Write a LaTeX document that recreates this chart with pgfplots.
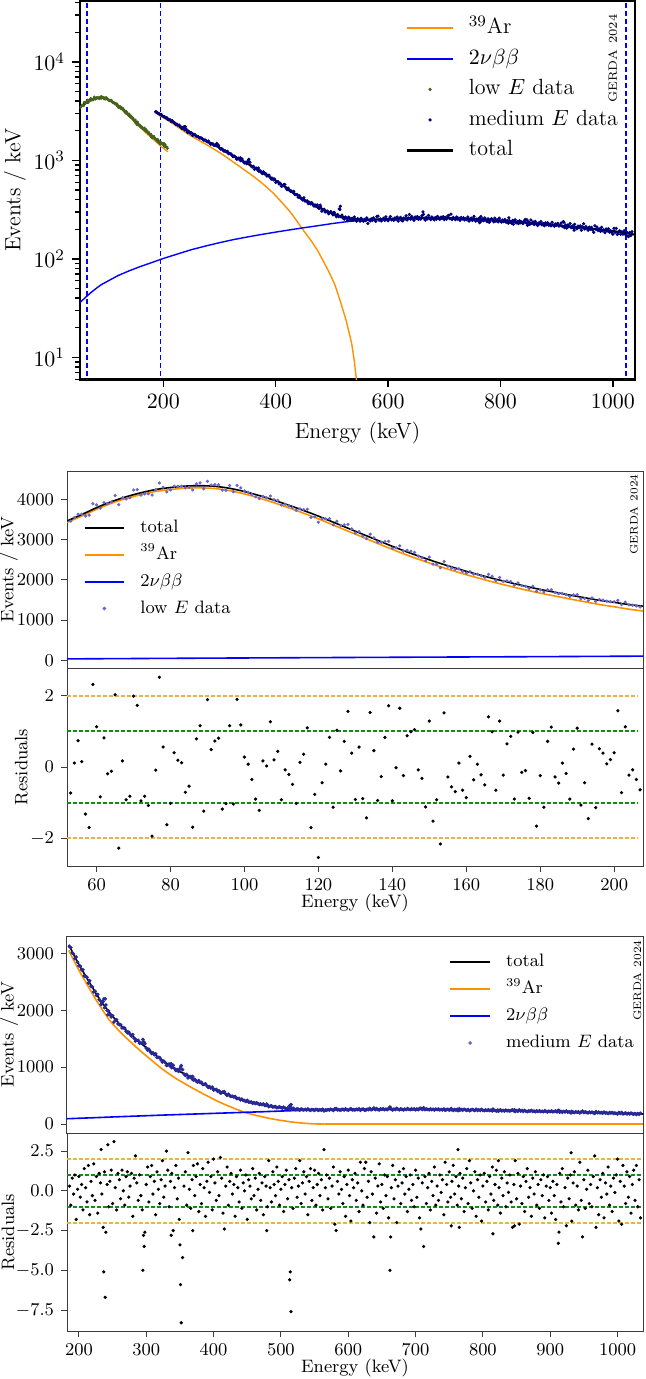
\documentclass[border=0pt]{standalone}
\usepackage{fontspec}
\usepackage{pgfplots}
\usepackage{pgfplotstable}
\pgfplotsset{compat=1.18}

\definecolor{arorange}{RGB}{255,145,0}
\definecolor{bbblue}{RGB}{0,0,255}
\definecolor{lowgreen}{RGB}{70,100,30}
\definecolor{navydata}{RGB}{0,0,128}
\definecolor{meddot}{RGB}{40,40,150}
\definecolor{lowdot}{RGB}{105,105,205}
\definecolor{sigtwo}{RGB}{232,180,70}
\definecolor{sigone}{RGB}{20,140,20}
\definecolor{framegray}{RGB}{60,60,60}

\pgfplotsset{
  gerda/.style={scale only axis, tick align=outside, tick pos=left,
    /pgf/number format/1000 sep={}, legend cell align=left,
    axis line style={framegray, line width=0.5pt},
    tick style={framegray, line width=0.5pt}, major tick length=3pt,
    ticklabel style={font=\fontsize{9}{11}\selectfont},
    every axis x label/.style={at={(rel axis cs:0.5,0)}, anchor=center, yshift=-18.5pt, font=\fontsize{9}{11}\selectfont}},
  ylabelat/.style={every axis y label/.style={at={(rel axis cs:0,0.5)}, rotate=90, anchor=center, yshift=#1, font=\fontsize{9}{11}\selectfont}},
  smalllegend/.style={legend style={at={(#1)}, anchor=north west, draw=none, fill=none,
    inner sep=0pt, row sep=2.5pt,
    nodes={font=\fontsize{9}{11}\selectfont, inner sep=1pt, text height=7pt, text depth=2pt},
    /tikz/every odd column/.append style={column sep=6.5pt}},
    legend image code/.code={\draw[mark repeat=2,mark phase=2,##1] plot coordinates {(0cm,0cm) (0.35cm,0cm) (0.7cm,0cm)};}},
  sigline/.style={forget plot, line width=0.9pt, dash pattern=on 2pt off 1pt, color=#1},
  bbline/.style={color=bbblue, line width=#1},
  arline/.style={color=arorange, line width=#1},
  totline/.style={color=black, line width=#1},
  dots/.style 2 args={only marks, mark=*, mark size=#1, color=#2},
}

% total fit, low energy range
\pgfplotstableread{
E tot
52 3460
56 3620
60 3790
64 3940
68 4060
72 4160
76 4240
80 4290
84 4325
88 4335
92 4320
96 4270
100 4190
104 4090
108 3975
112 3850
116 3720
120 3580
124 3430
128 3280
132 3130
136 2980
140 2830
144 2690
148 2560
152 2435
156 2320
160 2210
164 2110
168 2015
172 1925
176 1840
180 1760
184 1690
188 1620
192 1555
196 1490
200 1440
204 1385
207.8 1345
}\lowtot

\pgfplotstableread{
E ar
52 3424
56 3582
60 3750
64 3898
68 4016
72 4114
76 4192
80 4240
84 4273
88 4281
92 4264
96 4212
100 4131
104 4029
108 3912
112 3785
116 3653
120 3512
124 3360
128 3208
132 3056
136 2904
140 2754
144 2612
148 2480
152 2354
156 2237
160 2126
164 2024
168 1927
172 1836
176 1749
180 1668
184 1596
188 1524
192 1455
196 1386
200 1330
204 1270
207.8 1225
}\lowar

\pgfplotstableread{
E bb
51.5 36
60 40
70 45
80 50
90 55
100 59
120 68
140 76
160 84
180 92
200 101
225 112
250 124
275 135
300 146
325 157
350 167
375 177
400 187
425 197
450 207
475 217
500 228
525 238
550 246
575 250
600 254
650 260
700 260
750 254
800 244
850 233
900 220
950 206
1000 192
1039.5 176
}\bbtab

\pgfplotstableread{
E tot
185 3150
195 2910
205 2700
215 2500
225 2300
235 2120
245 1965
255 1825
265 1700
275 1595
285 1490
295 1390
305 1295
315 1200
325 1110
335 1030
345 955
355 890
365 825
375 765
385 705
395 650
405 595
415 545
425 500
435 455
445 415
455 385
465 360
475 337
485 315
495 298
505 284
515 270
525 262
535 256
545 252
555 250
570 251
600 254
650 260
700 260
750 254
800 244
850 233
900 220
950 206
1000 192
1039.5 176
}\medtot

\pgfplotstableread{
E ar
185 3052
195 2811
205 2597
215 2393
225 2188
235 2004
245 1830
255 1696
265 1572
275 1462
285 1352
295 1248
305 1149
315 1050
325 956
335 872
345 793
355 724
365 655
375 591
385 527
395 468
405 406
415 352
425 303
435 254
445 210
455 176
465 147
475 120
485 94
495 73
505 55
515 37
525 24
535 14
540 9
545 5
550 2.2
555 0.8
560 0.2
565 0.02
}\medar

\pgfplotstableread{
E data res
53 3456 -0.73
54 3547 0.11
55 3624 0.74
56 3629 0.15
57 3583 -1.32
58 3603 -1.70
59 3887 2.32
60 3858 1.13
61 3778 -0.84
62 3914 0.82
63 3891 -0.19
64 3933 -0.12
65 4092 2.03
66 3863 -2.28
67 4040 0.17
68 4005 -0.92
69 4036 -0.82
70 4229 1.99
71 4239 1.73
72 4103 -0.95
73 4131 -0.82
74 4135 -1.08
75 4104 -1.94
76 4235 -0.09
77 4403 2.52
78 4299 0.56
79 4181 -1.62
80 4229 -1.02
81 4323 0.40
82 4319 0.19
83 4323 0.12
84 4282 -0.71
85 4296 -0.54
86 4229 -1.69
87 4380 0.79
88 4405 1.16
89 4257 -1.24
90 4441 1.89
91 4353 0.49
92 4364 0.73
93 4357 0.81
94 4224 -1.18
95 4220 -1.03
96 4340 1.16
97 4188 -1.04
98 4344 1.90
99 4281 1.18
100 4207 0.28
101 4170 0.08
102 4119 -0.35
103 4061 -0.90
104 4017 -1.22
105 4071 0.17
106 4034 0.03
107 4080 1.27
108 3987 0.20
109 3970 0.44
110 3857 -0.92
111 3876 -0.08
112 3837 -0.21
113 3789 -0.49
114 3724 -1.02
115 3760 0.13
116 3742 0.36
117 3751 1.10
118 3548 -1.70
119 3569 -0.77
120 3428 -2.54
121 3516 -0.44
122 3510 0.08
123 3518 0.83
124 3362 -1.13
125 3454 1.03
126 3348 -0.11
127 3361 0.72
128 3374 1.56
129 3262 0.39
130 3159 -0.91
131 3196 0.56
132 3085 -0.89
133 3020 -1.43
134 3132 1.53
135 3041 0.46
136 2933 -0.94
137 2928 -0.27
138 2947 0.83
139 2954 1.72
140 2782 -0.95
141 2794 -0.02
142 2843 1.65
143 2713 -0.24
144 2734 0.88
145 2708 0.99
146 2678 1.05
147 2588 -0.08
148 2544 -0.32
149 2473 -1.12
150 2563 1.29
151 2390 -1.52
152 2389 -0.92
153 2298 -2.16
154 2454 1.52
155 2335 -0.28
156 2292 -0.56
157 2257 -0.69
158 2271 0.11
159 2205 -0.65
160 2167 -0.86
161 2200 0.30
162 2142 -0.36
163 2139 0.08
164 2099 -0.22
165 2061 -0.50
166 2133 1.41
167 2089 0.99
168 1982 -0.65
169 2057 1.29
170 1958 -0.23
171 1974 0.65
172 1959 0.86
173 1868 -0.90
174 1921 0.98
175 1855 -0.15
176 1836 -0.10
177 1785 -0.88
178 1839 0.97
179 1714 -1.66
180 1750 -0.24
181 1697 -1.13
182 1754 0.72
183 1753 1.12
184 1679 -0.28
185 1654 -0.45
186 1659 0.11
187 1631 -0.18
188 1584 -0.90
189 1624 0.50
190 1632 1.09
191 1528 -1.07
192 1537 -0.44
193 1481 -1.45
194 1548 0.64
195 1460 -1.14
196 1510 0.51
197 1494 0.39
198 1469 0.09
199 1460 0.21
200 1456 0.40
201 1489 1.58
202 1383 -0.72
203 1444 1.13
204 1376 -0.23
205 1370 -0.08
206 1348 -0.35
207 1324 -0.64
}\lowdata

\pgfplotstableread{
E data res
186 3118 0.3
188 3101 -0.9
190 3009 0.8
192 2987 -0.2
194 2908 1.0
196 2936 -1.8
198 2844 0.1
200 2782 0.9
202 2773 -0.4
204 2711 0.4
206 2711 -1.2
208 2604 1.4
210 2595 0.2
212 2578 -0.7
214 2478 1.6
216 2519 -1.5
218 2424 0.6
220 2408 -0.3
222 2323 1.7
224 2333 -0.6
226 2262 0.9
228 2277 -1.4
230 2186 1.1
232 2163 0.5
233 2099 2.6
234 2142 -0.2
236 2154 -2.3
237 2198 -5.1
238 2043 1.2
239 2199 -6.7
240 2092 -2.6
242 1992 0.4
243 1920 2.9
244 1989 -1.0
246 1924 0.6
248 1882 1.3
250 1903 -0.8
252 1791 3.1
254 1829 0.2
256 1834 -1.2
258 1760 1.1
260 1745 0.7
262 1746 -0.5
264 1687 1.3
266 1690 0.0
268 1685 -0.9
270 1631 0.9
272 1603 1.2
274 1614 -0.4
276 1578 0.3
278 1543 1.1
280 1572 -1.6
282 1507 0.8
284 1458 2.2
286 1471 0.5
288 1471 -0.6
290 1421 1.0
292 1426 -0.3
294 1423 -1.2
295 1485 -5.0
296 1433 -2.8
297 1438 -3.5
298 1411 -2.6
300 1334 0.4
302 1300 1.5
304 1315 -0.7
306 1272 0.9
308 1240 1.6
310 1251 -0.2
312 1218 0.6
314 1234 -1.5
316 1172 1.2
318 1171 0.1
320 1168 -0.8
322 1126 0.7
324 1089 1.9
326 1108 -0.4
328 1081 0.3
330 1030 2.5
332 1033 1.3
334 1054 -1.0
336 1012 0.6
337 1060 -2.8
338 990 1.1
340 1032 -2.5
342 975 0.2
344 940 1.6
346 955 -0.5
348 925 0.8
349 954 -1.8
350 970 -3.4
351 999 -5.9
352 1026 -8.3
354 955 -4.2
356 880 0.3
358 853 1.2
360 871 -0.9
362 810 2.4
364 831 0.1
366 834 -1.1
368 797 0.7
369 836 -2.5
370 773 1.6
372 787 -0.3
374 758 0.9
376 735 1.7
378 765 -1.3
380 729 0.4
382 733 -0.8
384 694 1.4
386 698 0.2
388 707 -1.6
390 671 0.6
392 644 1.8
394 657 -0.1
396 633 0.9
398 648 -1.2
400 598 2.0
402 606 0.5
404 607 -0.6
406 576 1.2
408 584 -0.3
410 545 2.1
412 550 0.8
414 567 -1.4
416 569 -2.4
418 528 0.3
420 504 1.5
422 523 -0.9
424 498 0.6
426 485 1.1
428 488 -0.2
430 474 0.4
432 484 -1.6
434 451 0.9
436 449 0.2
438 450 -0.7
440 422 1.3
442 438 -1.1
444 414 0.5
446 412 0.0
448 396 1.0
450 418 -1.8
452 387 0.7
454 385 0.3
456 387 -0.5
458 364 1.4
460 375 -0.3
462 361 0.8
464 373 -1.2
466 357 0.1
468 343 1.1
470 353 -0.6
472 340 0.5
474 353 -1.5
476 327 0.9
478 327 0.3
479 351 -2.5
480 335 -1.0
482 305 1.9
484 315 0.2
486 319 -0.7
488 299 1.2
490 302 0.4
492 306 -0.3
494 287 1.5
496 292 0.6
498 302 -0.9
500 290 0.1
502 280 0.9
504 297 -1.3
506 279 0.4
508 268 1.3
510 282 -0.5
512 268 0.7
513 322 -5.6
514 317 -5.1
515 342 -7.6
516 267 0.2
518 278 -1.1
520 259 0.8
522 253 1.4
524 266 -0.4
526 259 0.3
528 245 1.9
530 265 -0.8
532 254 0.5
534 247 1.2
536 258 -0.2
538 248 0.9
540 266 -1.5
542 248 0.6
544 241 1.4
546 256 -0.6
548 249 0.2
550 241 1.3
552 258 -0.9
554 247 0.4
556 241 1.1
558 252 -0.3
560 244 0.7
562 260 -1.2
564 229 2.6
566 248 0.2
568 242 1.0
570 255 -0.5
572 245 0.8
574 260 -1.1
576 249 0.3
578 240 1.5
580 269 -2.1
582 272 -2.5
584 247 0.6
586 254 -0.2
588 243 1.2
590 252 0.1
592 259 -0.8
594 246 0.9
596 267 -1.6
598 251 0.4
600 244 1.3
602 256 -0.3
604 269 -1.9
606 249 0.7
608 253 0.2
610 246 1.1
612 260 -0.6
614 252 0.5
616 266 -1.3
618 242 1.8
620 256 0.0
622 264 -0.9
624 246 1.4
626 243 1.8
628 260 -0.4
630 253 0.6
632 274 -2.0
634 248 1.2
636 260 -0.2
638 282 -2.9
640 253 0.8
642 270 -1.4
644 257 0.3
646 246 1.7
648 266 -0.7
650 257 0.4
652 269 -1.1
654 252 1.0
656 262 -0.3
658 253 0.9
660 274 -1.7
662 300 -5.0
663 283 -2.9
664 258 0.2
666 247 1.6
668 264 -0.5
670 254 0.7
672 276 -2.0
674 258 0.3
676 250 1.2
678 266 -0.8
680 256 0.5
682 249 1.4
684 262 -0.2
686 253 0.9
688 270 -1.3
690 259 0.1
692 252 1.0
694 265 -0.6
696 257 0.4
698 268 -1.0
700 250 1.3
702 263 -0.4
704 253 0.8
706 272 -1.7
708 277 -2.4
710 255 0.5
712 285 -3.5
714 251 0.9
716 264 -0.8
718 256 0.2
720 250 1.1
722 266 -1.2
724 253 0.6
726 259 -0.3
728 246 1.5
730 263 -0.9
732 254 0.3
734 261 -0.6
736 249 1.0
738 256 -0.1
740 250 0.7
742 266 -1.5
744 242 1.8
746 251 0.4
748 259 -0.7
750 245 1.2
752 257 -0.4
753 270 -2.2
754 249 0.6
756 241 1.6
758 254 -0.2
760 245 0.9
762 259 -0.9
763 233 2.6
764 250 0.3
765 269 -2.3
766 243 1.1
768 255 -0.5
770 244 0.8
772 260 -1.3
774 249 0.2
776 239 1.4
778 255 -0.8
780 235 1.9
782 244 0.5
784 256 -1.1
786 247 0.0
788 238 1.2
790 259 -1.6
792 241 0.7
794 249 -0.4
796 238 1.0
798 259 -1.9
800 242 0.3
802 236 1.1
804 248 -0.7
806 239 0.6
808 251 -1.2
810 235 0.9
812 244 -0.2
814 230 1.5
815 261 -2.7
816 245 -0.6
818 237 0.4
820 230 1.3
822 246 -0.9
823 225 1.9
824 238 0.2
826 249 -1.4
828 232 0.8
830 239 -0.3
832 228 1.2
834 244 -1.0
836 232 0.5
838 237 -0.1
840 228 1.0
842 240 -0.7
844 251 -2.3
846 231 0.4
847 250 -2.2
848 219 1.9
850 237 -0.5
852 224 1.1
854 248 -2.1
856 229 0.3
858 237 -0.8
860 223 0.9
862 240 -1.3
864 225 0.6
866 218 1.4
868 231 -0.4
870 226 0.2
872 239 -1.6
874 221 0.8
876 228 -0.2
878 217 1.2
880 232 -0.9
882 222 0.4
884 232 -1.1
886 219 0.7
888 225 -0.3
890 216 1.0
892 235 -1.7
894 220 0.3
896 214 0.9
898 226 -0.6
900 219 0.2
902 229 -1.4
904 215 0.6
906 220 -0.3
908 231 -1.8
910 214 0.4
912 240 -3.3
913 235 -2.6
914 208 1.1
916 221 -0.7
918 205 1.4
920 221 -1.0
922 213 0.2
924 228 -2.2
926 207 0.8
928 216 -0.5
930 205 1.0
931 195 2.4
932 224 -1.9
934 208 0.5
936 202 1.2
938 215 -0.9
940 207 0.3
942 216 -1.2
944 195 1.8
946 211 -0.6
948 227 -2.9
950 201 0.7
952 213 -1.1
954 204 0.1
956 195 1.3
958 210 -0.8
960 200 0.4
962 209 -1.0
964 196 0.9
966 186 2.2
968 217 -2.3
970 199 0.2
972 210 -1.5
974 194 0.7
976 201 -0.4
978 190 1.1
980 209 -1.7
982 193 0.5
984 197 -0.2
986 185 1.5
988 201 -0.9
990 192 0.3
992 202 -1.3
994 187 0.8
996 193 -0.1
998 185 1.0
1000 178 2.0
1002 204 -1.9
1004 186 0.6
1006 204 -2.1
1008 177 1.6
1010 186 0.3
1012 193 -0.8
1014 178 1.2
1016 188 -0.4
1018 178 0.9
1020 193 -1.4
1022 179 0.4
1024 172 1.3
1026 184 -0.6
1028 168 1.6
1030 185 -1.0
1032 172 0.7
1034 189 -1.7
}\meddata

\begin{document}
\begin{tikzpicture}

% ---------- overview, log scale ----------
\begin{axis}[gerda, at={(40pt,-0.6pt)}, anchor=north west,
  width=277.5pt, height=189pt, ymode=log,
  xmin=51.5, xmax=1039.5, ymin=6, ymax=41300,
  xtick={200,400,600,800,1000},
  axis line style={black, line width=1.3pt},
  tick style={black, line width=0.7pt},
  major tick length=4pt, minor tick length=2.3pt,
  ticklabel style={font=\fontsize{11}{13}\selectfont},
  every axis x label/.style={at={(rel axis cs:0.5,0)}, anchor=center, yshift=-27pt, font=\fontsize{11}{13}\selectfont},
  every axis y label/.style={at={(rel axis cs:0,0.5)}, rotate=90, anchor=center, yshift=32.5pt, font=\fontsize{11}{13}\selectfont},
  xlabel={Energy (keV)}, ylabel={Events / keV},
  legend style={at={(0.587,0.962)}, anchor=north west, draw=none, fill=none,
    inner sep=0pt, row sep=2.75pt,
    nodes={font=\fontsize{11}{13}\selectfont, inner sep=1pt, text height=8pt, text depth=2.5pt},
    /tikz/every odd column/.append style={column sep=6.5pt}},
  legend image code/.code={\draw[mark repeat=2,mark phase=2,#1] plot coordinates {(0cm,0cm) (0.4cm,0cm) (0.8cm,0cm)};}]
\addlegendimage{arline=1pt}\addlegendentry{$^{39}$Ar}
\addlegendimage{bbline=1pt}\addlegendentry{$2\nu\beta\beta$}
\addlegendimage{dots={0.6pt}{lowgreen}}\addlegendentry{low $E$ data}
\addlegendimage{dots={0.6pt}{navydata}}\addlegendentry{medium $E$ data}
\addlegendimage{totline=1.1pt}\addlegendentry{total}
\addplot[forget plot, bbline=0.8pt, dash pattern=on 2.5pt off 1.5pt] coordinates {(64,1) (64,100000)};
\addplot[forget plot, bbline=0.8pt, dash pattern=on 2.5pt off 1.5pt] coordinates {(195,1) (195,100000)};
\addplot[forget plot, bbline=0.8pt, dash pattern=on 2.5pt off 1.5pt] coordinates {(1023,1) (1023,100000)};
\addplot[forget plot, arline=0.7pt, smooth] table[x=E, y=ar] {\lowar};
\addplot[forget plot, arline=0.7pt] table[x=E, y=ar] {\medar};
\addplot[forget plot, bbline=0.7pt] table[x=E, y=bb] {\bbtab};
\addplot[forget plot, dots={0.5pt}{lowgreen}] table[x=E, y=data] {\lowdata};
\addplot[forget plot, dots={0.6pt}{navydata}] table[x=E, y=data] {\meddata};
\addplot[forget plot, totline=1pt, smooth] table[x=E, y=tot] {\lowtot};
\addplot[forget plot, totline=1pt] table[x=E, y=tot] {\medtot};
\node[rotate=90, anchor=east, inner sep=0pt, font=\fontsize{6}{7}\selectfont] at (rel axis cs:0.96,0.966) {GERDA\hspace{3pt}2024};
\end{axis}

% ---------- low energy fit ----------
\begin{axis}[gerda, ylabelat=29pt, smalllegend={0.028,0.771}, at={(33.5pt,-235.5pt)}, anchor=north west,
  width=288pt, height=98.5pt, xmin=52, xmax=207.8, ymin=-190, ymax=4700,
  xtick=\empty, ytick={0,1000,2000,3000,4000}, ylabel={Events / keV}]
\addlegendimage{totline=1pt}\addlegendentry{total}
\addlegendimage{arline=1pt}\addlegendentry{$^{39}$Ar}
\addlegendimage{bbline=1pt}\addlegendentry{$2\nu\beta\beta$}
\addlegendimage{dots={0.7pt}{lowdot}}\addlegendentry{low $E$ data}
\addplot[forget plot, arline=0.8pt, smooth] table[x=E, y=ar] {\lowar};
\addplot[forget plot, bbline=0.8pt] table[x=E, y=bb] {\bbtab};
\addplot[forget plot, totline=0.8pt, smooth] table[x=E, y=tot] {\lowtot};
\addplot[forget plot, dots={0.6pt}{lowdot}] table[x=E, y=data] {\lowdata};
\node[rotate=90, anchor=east, inner sep=0pt, font=\fontsize{5.5}{6.5}\selectfont] at (rel axis cs:0.984,0.985) {GERDA\hspace{2.5pt}2024};
\end{axis}

\begin{axis}[gerda, ylabelat=22.8pt, at={(33.5pt,-334pt)}, anchor=north west,
  width=288pt, height=99pt, xmin=52, xmax=207.8, ymin=-2.78, ymax=2.78,
  xtick={60,80,...,200}, ytick={-2,0,2},
  xlabel={Energy (keV)}, ylabel={Residuals}]
\addplot[sigline=sigtwo] coordinates {(52,2) (206.5,2)};
\addplot[sigline=sigone] coordinates {(52,1) (206.5,1)};
\addplot[sigline=sigtwo] coordinates {(52,-2) (206.5,-2)};
\addplot[sigline=sigone] coordinates {(52,-1) (206.5,-1)};
\addplot[dots={0.6pt}{black}] table[x=E, y=res] {\lowdata};
\end{axis}

% ---------- medium energy fit ----------
\begin{axis}[gerda, ylabelat=29pt, smalllegend={0.663,0.926}, at={(33.5pt,-468pt)}, anchor=north west,
  width=288pt, height=98.5pt, xmin=182.3, xmax=1037.8, ymin=-158, ymax=3304,
  xtick=\empty, ytick={0,1000,2000,3000}, ylabel={Events / keV}]
\addlegendimage{totline=1pt}\addlegendentry{total}
\addlegendimage{arline=1pt}\addlegendentry{$^{39}$Ar}
\addlegendimage{bbline=1pt}\addlegendentry{$2\nu\beta\beta$}
\addlegendimage{dots={0.7pt}{lowdot}}\addlegendentry{medium $E$ data}
\addplot[forget plot, arline=0.8pt] table[x=E, y=ar] {\medar};
\addplot[forget plot, arline=0.8pt] coordinates {(565,0) (1037.8,0)};
\addplot[forget plot, bbline=0.8pt] table[x=E, y=bb] {\bbtab};
\addplot[forget plot, totline=0.8pt] table[x=E, y=tot] {\medtot};
\addplot[forget plot, dots={0.7pt}{meddot}] table[x=E, y=data] {\meddata};
\node[rotate=90, anchor=east, inner sep=0pt, font=\fontsize{5.5}{6.5}\selectfont] at (rel axis cs:0.99,0.98) {GERDA\hspace{2.5pt}2024};
\end{axis}

\begin{axis}[gerda, ylabelat=29.4pt, at={(33.5pt,-566.5pt)}, anchor=north west,
  width=288pt, height=99pt, xmin=182.3, xmax=1037.8, ymin=-8.82, ymax=3.64,
  xtick={200,300,...,1000}, ytick={-7.5,-5,-2.5,0,2.5},
  yticklabel style={/pgf/number format/.cd, fixed, fixed zerofill, precision=1},
  xlabel={Energy (keV)}, ylabel={Residuals}]
\addplot[sigline=sigtwo] coordinates {(182.3,2) (1037.8,2)};
\addplot[sigline=sigone] coordinates {(182.3,1) (1037.8,1)};
\addplot[sigline=sigtwo] coordinates {(182.3,-2) (1037.8,-2)};
\addplot[sigline=sigone] coordinates {(182.3,-1) (1037.8,-1)};
\addplot[dots={0.6pt}{black}] table[x=E, y=res] {\meddata};
\end{axis}

\pgfresetboundingbox
\path[use as bounding box] (0pt,0pt) rectangle (323pt,-689.5pt);
\end{tikzpicture}
\end{document}
